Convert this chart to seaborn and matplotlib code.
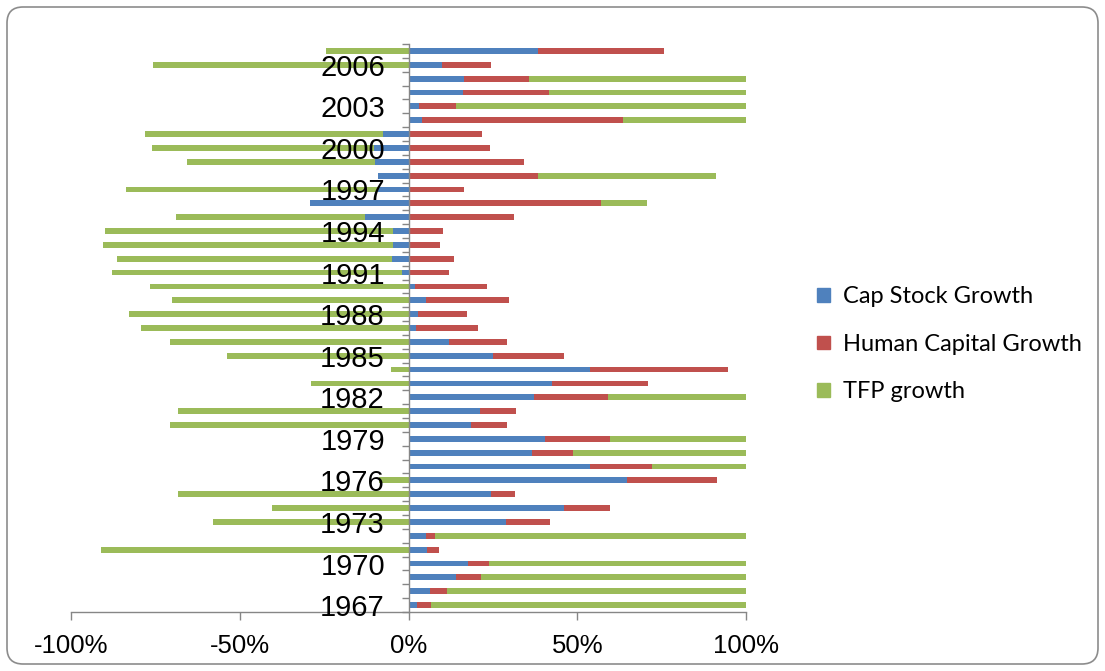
import matplotlib
matplotlib.use("Agg")
import matplotlib.pyplot as plt
import matplotlib.patches as mpatches
from matplotlib.transforms import IdentityTransform
import numpy as np
import pandas as pd
import seaborn as sns

## Data ##
years = list(range(1967, 2008))
cap_stock = [2.6, 6.3, 14.0, 17.6, 5.6, 5.2, 28.9, 46.2, 24.5, 64.6,
             53.8, 36.6, 40.5, 18.5, 21.3, 37.1, 42.6, 53.7, 25.1, 12.0,
             2.2, 2.9, 5.3, 1.9, -1.8, -4.8, -4.6, -4.5, -12.9, -29.2,
             -9.0, -9.0, -9.8, -10.1, -7.6, 4.0, 3.0, 16.2, 16.3, 9.9, 38.4]
human_cap = [4.2, 5.0, 7.5, 6.3, 3.3, 2.7, 13.1, 13.4, 7.2, 26.7,
             18.4, 12.0, 19.3, 10.8, 10.5, 22.1, 28.5, 41.1, 21.0, 17.3,
             18.5, 14.4, 24.5, 21.5, 12.0, 13.5, 9.4, 10.2, 31.2, 57.1,
             16.3, 38.4, 34.3, 24.0, 21.9, 59.5, 11.0, 25.3, 19.3, 14.4, 37.3]
tfp = [93.2, 88.7, 78.5, 76.1, -91.1, 92.1, -58.0, -40.4, -68.3, -8.7,
       27.8, 51.4, 40.2, -70.7, -68.2, 40.8, -28.9, -5.2, -53.9, -70.7,
       -79.3, -82.7, -70.2, -76.6, -86.2, -81.7, -86.0, -85.3, -55.9, 13.7,
       -74.7, 52.6, -55.9, -65.9, -70.5, 36.5, 86.0, 58.5, 64.4, -75.7, -24.3]
series_names = ["Cap Stock Growth", "Human Capital Growth", "TFP growth"]
colors = ["#4F81BD", "#C0504D", "#9BBB59"]
shown_years = list(range(1967, 2007, 3))

df = pd.DataFrame({"Year": [str(y) for y in years],
                   "cap": cap_stock, "hum": human_cap, "tfp": tfp})

# stacked extents: positives go right from 0, negatives go left, in series order
cols = ["cap", "hum", "tfp"]
pos = df[cols].clip(lower=0).cumsum(axis=1)
neg = df[cols].clip(upper=0).cumsum(axis=1)

order = [str(y) for y in years[::-1]]

plt.rcParams['font.family'] = ['Liberation Sans', 'DejaVu Sans']

fig = plt.figure(figsize=(11.05, 6.71), dpi=100)
ax = fig.add_axes([71 / 1105, 1 - 612 / 671, 675 / 1105, 568 / 671])

# draw outermost layer first so inner segments sit on top
for i in [2, 1, 0]:
    for ext in (pos, neg):
        tmp = pd.DataFrame({"Year": df["Year"], "v": ext[cols[i]]})
        sns.barplot(data=tmp, x="v", y="Year", order=order, orient="h",
                    color=colors[i], saturation=1, width=0.42, errorbar=None,
                    linewidth=0, ax=ax)

ax.set_axisbelow(False)
for s in ["top", "right"]:
    ax.spines[s].set_visible(False)
ax.spines["left"].set_position(("data", 0))  # resets ticks, so do it before styling them
for s in ["left", "bottom"]:
    ax.spines[s].set_color("#868686")
    ax.spines[s].set_linewidth(1)
ax.patch.set_visible(False)

ax.set_xlim(-100, 100)
ax.set_ylim(len(years) - 0.5, -0.5)
ax.set_xlabel("")
ax.set_ylabel("")

ax.set_xticks([-100, -50, 0, 50, 100])
ax.set_xticklabels(["-100%", "-50%", "0%", "50%", "100%"], fontsize=18.5)
ax.tick_params(axis="x", direction="out", length=6, width=1, color="#868686", pad=10)

ypos = [order.index(str(y)) for y in shown_years]
ax.set_yticks(ypos)
ax.set_yticklabels([str(y) for y in shown_years], fontsize=21)
ax.set_yticks(np.arange(-0.5, len(years), 1.0), minor=True)
ax.tick_params(axis="y", which="major", length=0, pad=17)
ax.tick_params(axis="y", which="minor", direction="out", length=5, width=1, color="#868686")
for lbl in ax.get_yticklabels():
    lbl.set_va("center_baseline")

handles = [mpatches.Patch(color=c, label=n) for c, n in zip(colors, series_names)]
fig.legend(handles=handles, loc="upper left", bbox_to_anchor=(808 / 1105, 1 - 277 / 671),
           frameon=False, prop={"family": "Lato", "size": 17},
           handlelength=0.53, handleheight=0.53, handletextpad=0.55, labelspacing=1.12,
           borderaxespad=0)

# rounded chart-area border
frame = mpatches.FancyBboxPatch((7, 7), 1091, 657, boxstyle="round,pad=0,rounding_size=16",
                                transform=IdentityTransform(), facecolor="none",
                                edgecolor="#8c8c8c", linewidth=1.2)
fig.patches.append(frame)

fig.savefig("out.png", dpi=100)
